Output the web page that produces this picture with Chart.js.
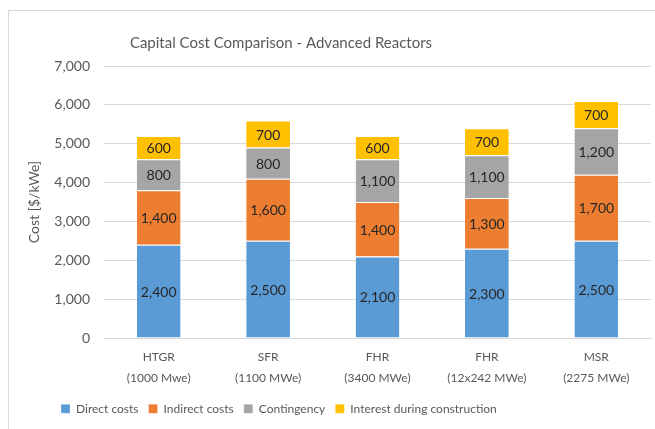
<!DOCTYPE html>
<html>
<head>
<meta charset="utf-8">
<script src="https://cdn.jsdelivr.net/npm/chart.js@4/dist/chart.umd.min.js"></script>
<style>
html,body{margin:0;padding:0;background:#fff;overflow:hidden}
#frame{position:absolute;left:8px;top:10px;width:700px;height:500px;border:1px solid #d9d9d9;box-sizing:border-box}
#wrap{position:absolute;left:0;top:0;width:655px;height:429px}
</style>
</head>
<body>
<div id="frame"></div>
<div id="wrap"><canvas id="chart"></canvas></div>
<script>
const chartTitle="Capital Cost Comparison - Advanced Reactors";
const categories=[["HTGR","(1000 Mwe)"],["SFR","(1100 MWe)"],["FHR","(3400 MWe)"],["FHR","(12x242 MWe)"],["MSR","(2275 MWe)"]];
const directCosts=[2400,2500,2100,2300,2500];
const indirectCosts=[1400,1600,1400,1300,1700];
const contingency=[800,800,1100,1100,1200];
const interest=[600,700,600,700,700];
const yTicks=[0,1000,2000,3000,4000,5000,6000,7000];

const FONT="Lato, 'Open Sans', sans-serif";
const TXT="#595959";
const LEG_H=28, LEG_Y=410, LEG_X=61, LEG_PAD=10, LEG_FS=12;

// title drawn by hand so it can sit off-centre like the original,
// legend gets a fixed height and spot so it can tuck under the labels
const layoutPlugin={
id:"offTitle",
afterInit(c){
const lg=c.legend;
if(lg && !lg._patched){
const f=lg.fit;
lg.fit=function(){f.call(this);this.height=LEG_H;};
lg._patched=true;
}
},
afterLayout(c){
const lg=c.legend;
const t=LEG_Y-LEG_PAD-LEG_FS*1.2/2;
const w=lg.right-lg.left;
lg.top=t;lg.bottom=t+LEG_H;
lg.left=LEG_X-LEG_PAD;lg.right=lg.left+w;
},
afterDraw(c){
const g=c.ctx;
g.save();
g.font="15px "+FONT;
g.fillStyle=TXT;
g.textAlign="center";
g.textBaseline="middle";
g.fillText(chartTitle,281,43);
g.restore();
}
};

const labelPlugin={
id:"segLabels",
afterDatasetsDraw(c){
const g=c.ctx;
g.save();
g.font="14px "+FONT;
g.fillStyle="#262626";
g.textAlign="center";
g.textBaseline="middle";
c.data.datasets.forEach((ds,i)=>{
c.getDatasetMeta(i).data.forEach((bar,j)=>{
g.fillText(ds.data[j].toLocaleString("en-US"),bar.x,(bar.y+bar.base)/2+1);
});
});
g.restore();
}
};

function seg(label,data,color){
return {label,data,backgroundColor:color,borderColor:"#ffffff",
borderWidth:{top:1,left:0,right:0,bottom:0},borderSkipped:false,
barPercentage:0.4,categoryPercentage:1};
}

new Chart(document.getElementById("chart"),{
type:"bar",
data:{labels:categories,datasets:[
seg("Direct costs",directCosts,"#5b9bd5"),
seg("Indirect costs",indirectCosts,"#ed7d31"),
seg("Contingency",contingency,"#a5a5a5"),
seg("Interest during construction",interest,"#ffc000")
]},
options:{
responsive:true,maintainAspectRatio:false,animation:false,
layout:{padding:{left:26,right:4,top:66,bottom:4}},
plugins:{
title:{display:false},
tooltip:{enabled:false},
legend:{position:"bottom",align:"start",
labels:{boxWidth:9,boxHeight:9,padding:LEG_PAD,color:TXT,font:{family:FONT,size:LEG_FS}}}
},
scales:{
x:{stacked:true,grid:{display:false,drawTicks:false},
border:{color:"#d9d9d9"},
ticks:{color:TXT,padding:9,font:{family:FONT,size:12,lineHeight:20.5/12},maxRotation:0,autoSkip:false}
},
y:{stacked:true,min:yTicks[0],max:yTicks[yTicks.length-1],
afterBuildTicks(s){s.ticks=yTicks.map(v=>({value:v}));},
grid:{color:"#d9d9d9",drawTicks:false},
border:{display:false},
ticks:{color:TXT,padding:14,font:{family:FONT,size:14}},
title:{display:true,text:"Cost [$/kWe]",color:TXT,padding:{top:0,bottom:0},font:{family:FONT,size:14}},
afterFit(s){s.width=78;}
}
}
},
plugins:[layoutPlugin,labelPlugin]
});
</script>
</body>
</html>
